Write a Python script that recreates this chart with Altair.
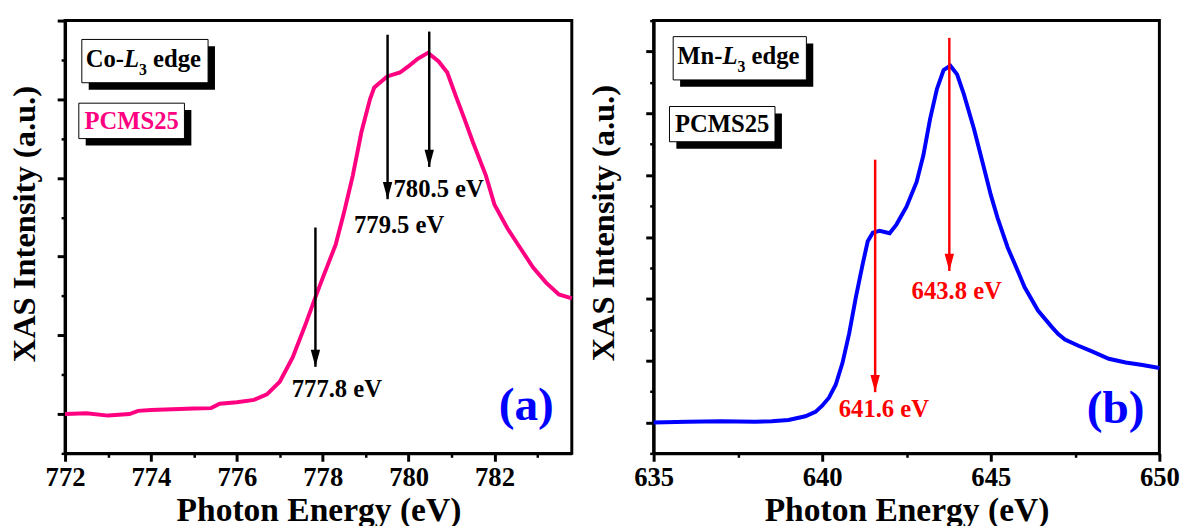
import altair as alt
import pandas as pd

# ---------------- data ----------------
co_energy = [772.0, 772.5, 773.0, 773.5, 773.7, 774.0, 775.0, 775.4, 775.6, 776.0,
             776.4, 776.7, 777.0, 777.3, 777.6, 777.8, 778.0, 778.3, 778.5, 778.7,
             778.9, 779.1, 779.2, 779.5, 779.8, 780.0, 780.2, 780.45, 780.7, 780.9,
             781.1, 781.3, 781.5, 781.8, 782.0, 782.3, 782.6, 782.9, 783.2, 783.5, 783.8]
co_intensity = [0.0, 0.01, -0.02, 0.0, 0.04, 0.05, 0.07, 0.075, 0.13, 0.15,
                0.18, 0.25, 0.41, 0.72, 1.14, 1.44, 1.73, 2.15, 2.57, 3.03,
                3.58, 4.0, 4.15, 4.29, 4.34, 4.42, 4.51, 4.59, 4.48, 4.34,
                4.04, 3.75, 3.45, 3.03, 2.66, 2.36, 2.11, 1.86, 1.67, 1.52, 1.47]

mn_energy = [635, 636, 637, 638, 638.5, 639, 639.5, 639.8, 640, 640.2,
             640.4, 640.6, 640.8, 641.0, 641.2, 641.35, 641.5, 641.7, 642.0, 642.2,
             642.5, 642.8, 643.0, 643.2, 643.4, 643.6, 643.8, 644.0, 644.2, 644.5,
             644.8, 645.0, 645.2, 645.5, 645.8, 646.0, 646.4, 646.8, 647.0, 647.2,
             647.6, 648, 648.5, 649, 649.5, 650]
mn_intensity = [0, 0.01, 0.02, 0.01, 0.02, 0.04, 0.1, 0.17, 0.27, 0.4,
                0.61, 0.96, 1.44, 2.03, 2.56, 2.93, 3.07, 3.1, 3.06, 3.2,
                3.49, 3.89, 4.32, 4.91, 5.39, 5.7, 5.77, 5.63, 5.31, 4.75,
                4.11, 3.68, 3.31, 2.83, 2.45, 2.19, 1.81, 1.55, 1.43, 1.34,
                1.24, 1.15, 1.03, 0.97, 0.93, 0.88]

# arrows: position, top, tip ; labels: text, x, y
co_arrow_x = [777.83, 779.51, 780.48]
co_arrow_top = [2.37, 4.82, 4.86]
co_arrow_tip = [0.60, 2.73, 3.14]
co_label_text = ["777.8 eV", "779.5 eV", "780.5 eV"]
co_label_x = [778.33, 779.78, 780.70]
co_label_y = [0.32, 2.40, 2.86]

mn_arrow_x = [641.57, 643.77]
mn_arrow_top = [4.25, 6.22]
mn_arrow_tip = [0.49, 2.45]
mn_label_text = ["641.6 eV", "643.8 eV"]
mn_label_x = [641.83, 643.99]
mn_label_y = [0.22, 2.13]

# axis ticks
co_x_major = [772, 774, 776, 778, 780, 782]
co_x_minor = [773, 775, 777, 779, 781, 783]
co_y_major = [0, 1, 2, 3, 4, 5]
co_y_minor = [-0.5, 0.5, 1.5, 2.5, 3.5, 4.5]
mn_x_major = [635, 640, 645, 650]
mn_x_minor = [637.5, 642.5, 647.5]
mn_y_major = [0, 1, 2, 3, 4, 5, 6]
mn_y_minor = [-0.5, 0.5, 1.5, 2.5, 3.5, 4.5, 5.5, 6.5]

co_domain_x = [772, 783.8]
co_domain_y = [-0.5, 5.0]
mn_domain_x = [635, 650]
mn_domain_y = [-0.5, 6.5]

# annotation boxes (data coords): x1, x2, y1, y2
co_edge_box = [772.39, 775.33, 4.21, 4.76]
co_sample_box = [772.32, 774.78, 3.50, 3.95]
mn_edge_box = [635.58, 639.53, 5.54, 6.24]
mn_sample_box = [635.47, 638.60, 4.54, 5.11]

co_edge_text_at = [772.48, 4.51]
co_sample_text_at = [773.55, 3.725]
mn_edge_text_at = [635.70, 5.92]
mn_sample_text_at = [637.03, 4.83]

panel_labels = ["(a)", "(b)"]
panel_label_at = [[782.74, 0.10], [648.70, 0.22]]

PINK = "#FF0080"
BLUE = "#0000FF"
RED = "#FF0000"
FONT = "'Liberation Serif', 'Times New Roman', Times, serif"
HEAD = "M-0.55,-1L0.55,-1L0,1Z"


def panel(energy, intensity, line_color, dom_x, dom_y, x_major, x_minor, y_major, y_minor,
          arrow_x, arrow_top, arrow_tip, arrow_color, lab_text, lab_x, lab_y,
          edge_box, sample_box, edge_at, sample_at, element, sample_color,
          plabel, plabel_at, width, ytitle_pad, ytitle_y):
    xs = alt.Scale(domain=dom_x, nice=False, zero=False)
    ys = alt.Scale(domain=dom_y, nice=False, zero=False)

    def X(f, axis=None):
        return alt.X(f, type="quantitative", scale=xs, axis=axis)

    def Y(f, axis=None):
        return alt.Y(f, type="quantitative", scale=ys, axis=axis)

    curve = pd.DataFrame({"e": energy, "i": intensity})
    main_x = alt.Axis(orient="bottom", values=x_major, tickSize=8, tickWidth=3,
                      labelFontSize=27, labelPadding=4, format="d", labelFlush=False,
                      labelOverlap=False, title="Photon Energy (eV)", titleFontSize=34,
                      titlePadding=3)
    main_y = alt.Axis(orient="left", values=y_major, tickSize=8, tickWidth=3,
                      labels=False, title="XAS Intensity (a.u.)", titleFontSize=33,
                      titlePadding=ytitle_pad, titleY=ytitle_y)
    minor_x = alt.Axis(orient="bottom", values=x_minor, tickSize=4, tickWidth=2.5,
                       labels=False, domain=False, title=None)
    minor_y = alt.Axis(orient="left", values=y_minor, tickSize=4, tickWidth=2.5,
                       labels=False, domain=False, title=None)

    line = alt.Chart(curve).mark_line(color=line_color, strokeWidth=4).encode(
        x=X("e", main_x), y=Y("i", main_y))
    minor = alt.Chart(curve).mark_line(opacity=0).encode(
        x=X("e", minor_x), y=Y("i", minor_y))

    arr = pd.DataFrame({"x": arrow_x, "top": arrow_top, "tip": arrow_tip})
    shafts = alt.Chart(arr).mark_rule(color=arrow_color, strokeWidth=2.5).encode(
        x=X("x"), y=Y("top"), y2="tip")
    heads = alt.Chart(arr).mark_point(shape=HEAD, size=300, filled=True, opacity=1,
                                      color=arrow_color, strokeWidth=0, yOffset=-8.7).encode(
        x=X("x"), y=Y("tip"))
    labs = pd.DataFrame({"t": lab_text, "x": lab_x, "y": lab_y})
    labels = alt.Chart(labs).mark_text(font=FONT, fontWeight="bold", fontSize=25,
                                       color=arrow_color, baseline="middle").encode(
        x=X("x"), y=Y("y"), text="t:N")

    boxes = pd.DataFrame({"x1": [edge_box[0], sample_box[0]], "x2": [edge_box[1], sample_box[1]],
                          "y1": [edge_box[2], sample_box[2]], "y2": [edge_box[3], sample_box[3]]})
    shadow = alt.Chart(boxes).mark_rect(color="black", xOffset=7, yOffset=7,
                                        x2Offset=7, y2Offset=7).encode(
        x=X("x1"), x2="x2", y=Y("y1"), y2="y2")
    box = alt.Chart(boxes).mark_rect(fill="white", stroke="black", strokeWidth=1).encode(
        x=X("x1"), x2="x2", y=Y("y1"), y2="y2")

    fs = 25
    adv_el = {"Co-": 1.555, "Mn-": 1.833}[element + "-"] * fs
    pieces = pd.DataFrame({"x": [edge_at[0]], "y": [edge_at[1]]})
    base = alt.Chart(pieces)
    t1 = base.mark_text(font=FONT, fontWeight="bold", fontSize=fs, color="black",
                        align="left", baseline="middle", text=element + "-").encode(
        x=X("x"), y=Y("y"))
    t2 = base.mark_text(font=FONT, fontWeight="bold", fontStyle="italic", fontSize=fs,
                        color="black", align="left", baseline="middle", text="L",
                        dx=adv_el).encode(x=X("x"), y=Y("y"))
    t3 = base.mark_text(font=FONT, fontWeight="bold", fontSize=16, color="black",
                        align="left", baseline="middle", text="3",
                        dx=adv_el + 0.611 * fs, dy=11).encode(x=X("x"), y=Y("y"))
    t4 = base.mark_text(font=FONT, fontWeight="bold", fontSize=fs, color="black",
                        align="left", baseline="middle", text="edge",
                        dx=adv_el + 0.611 * fs + 8 + 0.25 * fs).encode(x=X("x"), y=Y("y"))
    sdf = pd.DataFrame({"x": [sample_at[0]], "y": [sample_at[1]], "t": ["PCMS25"]})
    t5 = alt.Chart(sdf).mark_text(font=FONT, fontWeight="bold", fontSize=fs,
                                  color=sample_color, baseline="middle").encode(
        x=X("x"), y=Y("y"), text="t:N")
    pdf = pd.DataFrame({"x": [plabel_at[0]], "y": [plabel_at[1]], "t": [plabel]})
    plab = alt.Chart(pdf).mark_text(font=FONT, fontWeight="bold", fontSize=48,
                                    color=BLUE, baseline="middle").encode(
        x=X("x"), y=Y("y"), text="t:N")

    return alt.layer(line, minor, shafts, heads, labels, shadow, box, t1, t2, t3, t4, t5,
                     plab).resolve_axis(x="independent", y="independent").properties(
        width=width, height=439)


left = panel(co_energy, co_intensity, PINK, co_domain_x, co_domain_y, co_x_major, co_x_minor,
             co_y_major, co_y_minor, co_arrow_x, co_arrow_top, co_arrow_tip, "black",
             co_label_text, co_label_x, co_label_y, co_edge_box, co_sample_box,
             co_edge_text_at, co_sample_text_at, "Co", PINK, panel_labels[0],
             panel_label_at[0], 514, 14, 206)
right = panel(mn_energy, mn_intensity, BLUE, mn_domain_x, mn_domain_y, mn_x_major, mn_x_minor,
              mn_y_major, mn_y_minor, mn_arrow_x, mn_arrow_top, mn_arrow_tip, RED,
              mn_label_text, mn_label_x, mn_label_y, mn_edge_box, mn_sample_box,
              mn_edge_text_at, mn_sample_text_at, "Mn", "black", panel_labels[1],
              panel_label_at[1], 513, 24, 205)

chart = alt.hconcat(left, right, spacing=5).properties(
    padding={"left": 8, "top": 14, "right": 5, "bottom": 5},
    background="white",
).configure_view(stroke="black", strokeWidth=3).configure_axis(
    grid=False, domainColor="black", domainWidth=3, tickColor="black",
    labelFont=FONT, labelFontWeight="bold", labelColor="black",
    titleFont=FONT, titleFontWeight="bold", titleColor="black")

chart.save("out.html", embed_options={"renderer": "svg", "actions": False})
